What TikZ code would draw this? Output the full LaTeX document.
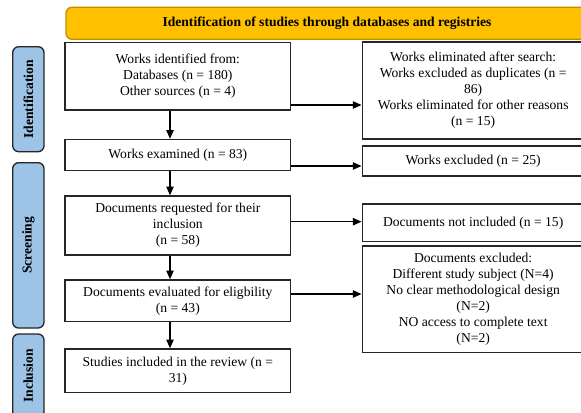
\documentclass[tikz,border=0pt]{standalone}
\usepackage{fontspec}
\setmainfont{Liberation Serif}
\usetikzlibrary{arrows.meta}
\definecolor{gold}{HTML}{FFC000}
\definecolor{goldline}{HTML}{BF9000}
\definecolor{sideblue}{HTML}{9DC3E6}
\begin{document}
\begin{tikzpicture}[x=0.75pt,y=-0.75pt,
  every node/.style={font=\fontsize{10.2pt}{12pt}\selectfont},
  flowbox/.style={draw=black!85,line width=1.1pt,fill=white,align=center,inner sep=0pt,minimum width=169.3pt},
  rbox/.style={flowbox,minimum width=166.3pt},
  sidebox/.style={draw=black!85,line width=1pt,fill=sideblue,rounded corners=4.5pt,rotate=90,minimum height=23.5pt,inner sep=0pt,font=\fontsize{10.2pt}{12pt}\selectfont\bfseries},
  titlebox/.style={draw=goldline,fill=gold,line width=1pt,rounded corners=4.5pt,minimum width=391.5pt,minimum height=24pt,inner sep=0pt,font=\fontsize{10.2pt}{12pt}\selectfont\bfseries},
  arr/.style={-{Triangle[length=6.5pt,width=5.5pt]},line width=0.9pt}
]
\useasboundingbox (0,0) rectangle (581,413);
\clip (0,0) rectangle (581,413);
\fill[white] (0,0) rectangle (581,413);

\node[titlebox] (title) at (327,23.3) {Identification of studies through databases and registries};

\node[sidebox,minimum width=78.75pt] (sid) at (28.35,99.2) {Identification};
\node[sidebox,minimum width=124pt] (sscr) at (28.35,245.35) {Screening};
\node[sidebox,minimum width=63pt] (sinc) at (28.35,376) {Inclusion};

\node[flowbox,minimum height=50.5pt] (b1) at (177.85,76.35) {Works identified from:\\Databases (n = 180)\\Other sources (n = 4)};
\node[flowbox,minimum height=23.4pt] (b2) at (177.85,155.1) {Works examined (n = 83)};
\node[flowbox,minimum height=44.25pt] (b3) at (177.85,225.5) {Documents requested for their\\inclusion\\(n = 58)};
\node[flowbox,minimum height=31.3pt] (b4) at (177.85,300.85) {Documents evaluated for eligbility\\(n = 43)};
\node[flowbox,minimum height=32.8pt] (b5) at (177.85,370.85) {Studies included in the review (n =\\31)};

\node[rbox,minimum height=72.75pt] (r1) at (473.15,90.5) {Works eliminated after search:\\Works excluded as duplicates (n =\\86)\\Works eliminated for other reasons\\(n = 15)};
\node[rbox,minimum height=22.5pt] (r2) at (473.15,161) {Works excluded (n = 25)};
\node[rbox,minimum height=28.3pt] (r3) at (473.15,222.85) {Documents not included (n = 15)};
\node[rbox,minimum height=80pt] (r4) at (473.15,299.35) {Documents excluded:\\Different study subject (N=4)\\No clear methodological design\\(N=2)\\NO access to complete text\\(N=2)};

\draw[arr] (b1.south -| 170,0) -- (b2.north -| 170,0);
\draw[arr] (b2.south -| 170,0) -- (b3.north -| 170,0);
\draw[arr] (b3.south -| 170,0) -- (b4.north -| 170,0);
\draw[arr] (b4.south -| 170,0) -- (b5.north -| 170,0);

\draw[arr] (b1.east |- 0,105) -- (r1.west |- 0,105);
\draw[arr] (b2.east |- 0,166) -- (r2.west |- 0,166);
\draw[arr] (b3.east |- 0,221.7) -- (r3.west |- 0,221.7);
\draw[arr] (b4.east |- 0,294) -- (r4.west |- 0,294);
\end{tikzpicture}
\end{document}
